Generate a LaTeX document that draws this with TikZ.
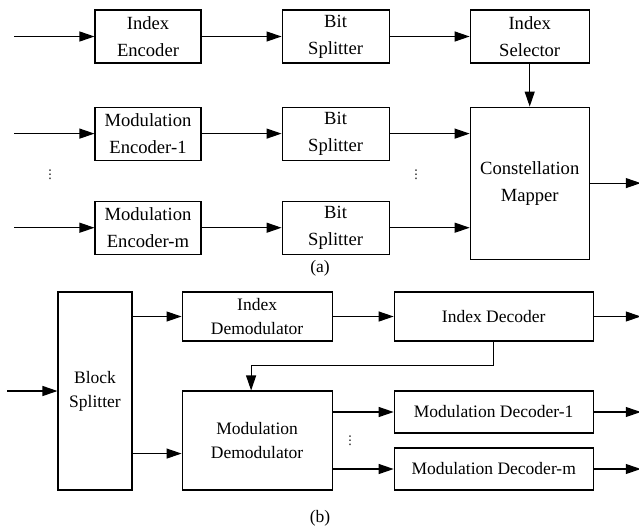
\documentclass[tikz,border=0pt]{standalone}
\usepackage{fontspec}
\setmainfont{Liberation Serif}
\newfontfamily\symfont{DejaVu Sans}
\usetikzlibrary{arrows.meta,positioning,calc}
\tikzset{
    line/.style   = {-{Triangle[length=15pt,width=10pt]}, line width=1.1pt, draw=black},
    block/.style  = {draw=black, line width=1.1pt, align=center, inner sep=2pt,
            font=\fontsize{17.5}{24}\selectfont},
    blockA/.style = {block, font=\fontsize{18.6}{27}\selectfont},
    encBlock/.style   = {blockA, minimum width=106pt, minimum height=53pt},
    splitBlock/.style = {blockA, minimum width=107pt, minimum height=53pt},
    decBlock/.style   = {block, minimum width=199pt, minimum height=42pt},
    dots/.style   = {font=\symfont\fontsize{12}{12}\selectfont, inner sep=0pt},
    caption/.style = {font=\fontsize{17.5}{20}\selectfont, inner sep=0pt},
}
\begin{document}
\begin{tikzpicture}[x=1pt,y=-1pt]
    \useasboundingbox (0,0) rectangle (639,531);
    \begin{scope}
        % Nodes
        \node[encBlock] (indexEnc) at (148,36.5) {Index\\Encoder};
        \node[splitBlock, right=80pt of indexEnc] (bitSplit1) {Bit\\Splitter};
        \node[blockA, minimum width=119pt, minimum height=53pt, right=80pt of bitSplit1] (indexSel) {Index\\Selector};
        \node[encBlock, below=43pt of indexEnc] (modEnc1) {Modulation\\Encoder-1};
        \node[encBlock, below=40pt of modEnc1] (modEncM) {Modulation\\Encoder-m};
        \node[splitBlock, below=43pt of bitSplit1] (bitSplit2) {Bit\\Splitter};
        \node[splitBlock, below=40pt of bitSplit2] (bitSplit3) {Bit\\Splitter};
        \node[blockA, minimum width=119pt, minimum height=152pt, below=43pt of indexSel] (mapper) {Constellation\\Mapper};
        \node[dots] (dotsA1) at (50,175) {⋮};
        \node[dots] (dotsA2) at (416,175) {⋮};
        \node[caption] (capA) at (320,268) {(a)};
        \coordinate[left=80pt of indexEnc] (inIdx);
        \coordinate[left=80pt of modEnc1] (inMod1);
        \coordinate[left=80pt of modEncM] (inModM);
        \coordinate[right=51pt of mapper] (outMap);
        % Arrows
        \draw[line] (inIdx) -- (indexEnc);
        \draw[line] (inMod1) -- (modEnc1);
        \draw[line] (inModM) -- (modEncM);
        \draw[line] (indexEnc) -- (bitSplit1);
        \draw[line] (modEnc1) -- (bitSplit2);
        \draw[line] (modEncM) -- (bitSplit3);
        \draw[line] (bitSplit1) -- (indexSel);
        \draw[line] (indexSel) -- (mapper);
        \draw[line] (bitSplit2) -- (bitSplit2 -| mapper.west);
        \draw[line] (bitSplit3) -- (bitSplit3 -| mapper.west);
        \draw[line] (mapper) -- (outMap);
    \end{scope}
    \begin{scope}
        % Nodes
        \node[block, minimum width=74pt, minimum height=198pt] (blockSplit) at (95,391) {Block\\Splitter};
        \node[block, minimum width=150pt, minimum height=49pt, right=49pt of blockSplit.north east, anchor=north west] (indexDemod) {Index\\Demodulator};
        \node[block, minimum width=199pt, minimum height=49pt, right=61pt of indexDemod] (indexDec) {Index Decoder};
        \node[block, minimum width=150pt, minimum height=99pt, right=49pt of blockSplit.south east, anchor=south west] (modDemod) {Modulation\\Demodulator};
        \node[decBlock, right=61pt of modDemod.north east, anchor=north west] (modDec1) {Modulation Decoder-1};
        \node[decBlock, right=61pt of modDemod.south east, anchor=south west] (modDecM) {Modulation Decoder-m};
        \node[dots] (dotsB) at (350,441) {⋮};
        \node[caption] (capB) at (320,518) {(b)};
        \coordinate[left=50pt of blockSplit] (inBlk);
        \coordinate (modIn) at ([yshift=37pt]modDemod.south west);
        \coordinate (feedIn) at ([xshift=-6pt]modDemod.north);
        \coordinate[right=47pt of indexDec] (outIdx);
        \coordinate[right=47pt of modDec1] (outMod1);
        \coordinate[right=47pt of modDecM] (outModM);
        % Arrows
        \draw[line] (inBlk) -- (blockSplit);
        \draw[line] (blockSplit.east |- indexDemod) -- (indexDemod);
        \draw[line] (blockSplit.east |- modIn) -- (modIn);
        \draw[line] (indexDemod) -- (indexDec);
        \draw[line] (indexDec) -- (outIdx);
        \draw[line] (indexDec.south) -- ++(0,24) -| (feedIn);
        \draw[line] (modDemod.east |- modDec1) -- (modDec1);
        \draw[line] (modDemod.east |- modDecM) -- (modDecM);
        \draw[line] (modDec1) -- (outMod1);
        \draw[line] (modDecM) -- (outModM);
    \end{scope}
\end{tikzpicture}
\end{document}
